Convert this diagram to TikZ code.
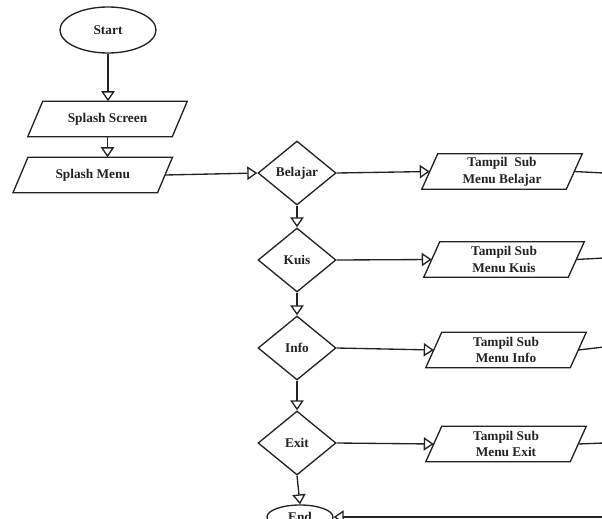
\documentclass[tikz,border=0pt]{standalone}
\usepackage{fontspec}
\setmainfont{Liberation Serif}
\usetikzlibrary{shapes.geometric,arrows.meta}
\definecolor{ink}{RGB}{35,35,35}
\begin{document}
\begin{tikzpicture}[x=0.75pt,y=-0.75pt,
  line/.style={draw=ink, line width=1pt},
  arr/.style={line, -{Triangle[open,length=7.5pt,width=10pt]}},
  txt/.style={font=\bfseries\fontsize{10}{12.5}\selectfont, text=ink},
  term/.style={ellipse, line, inner sep=0pt, txt},
  dec/.style={diamond, line, inner sep=0pt, minimum width=58.5pt, minimum height=48pt, txt},
  io/.style={inner sep=0pt, minimum width=108pt, minimum height=26.25pt, align=center, txt}
]
\path[use as bounding box] (0,0) rectangle (602,518);
\clip (0,0) rectangle (602,518);

% terminals
\node[term, minimum width=72pt, minimum height=34.5pt] (start) at (108,30) {Start};
\node[term, minimum width=49.5pt, minimum height=18pt] (end) at (300,517) {End};

% input/output boxes (drawn as parallelograms below)
\node[io] (ss) at (107.5,119) {Splash Screen};
\node[io] (sm) at (92.75,175) {Splash Menu};
\node[io] (tb) at (502,171.5) {Tampil~ Sub\\Menu Belajar};
\node[io] (tk) at (504,259.5) {Tampil Sub\\Menu Kuis};
\node[io] (ti) at (506,350) {Tampil Sub\\Menu Info};
\node[io] (te) at (506,444) {Tampil Sub\\Menu Exit};

\foreach \n in {ss,sm}
  \draw[line] ([xshift=5.625pt]\n.north west) -- ([xshift=5.625pt]\n.north east)
     -- ([xshift=-5.625pt]\n.south east) -- ([xshift=-5.625pt]\n.south west) -- cycle;
\foreach \n in {tb,tk,ti,te}
  \draw[line] ([xshift=6pt]\n.north west) -- ([xshift=6pt]\n.north east)
     -- ([xshift=-6pt]\n.south east) -- ([xshift=-6pt]\n.south west) -- cycle;

% decisions
\node[dec] (bel) at (297,173) {Belajar};
\node[dec] (kuis) at (297,260) {Kuis};
\node[dec] (info) at (297,348) {Info};
\node[dec] (exit) at (297,443) {Exit};

% right-hand free ends
\coordinate (rb) at (604,173);
\coordinate (rk) at (604,258);
\coordinate (ri) at (604,347);
\coordinate (rx) at (604,443);
\coordinate (re) at (604,517);

% connectors
\draw[arr] (start.south) -- (ss.north -| start.south);
\draw[arr] (ss.south) -- (ss.south |- sm.north);
\draw[arr] (sm.east) -- (bel.west);
\draw[arr] (bel.south) -- (kuis.north);
\draw[arr] (kuis.south) -- (info.north);
\draw[arr] (info.south) -- (exit.north);
\draw[arr] (exit.south) -- (end.north);
\draw[arr] (bel.east) -- (tb.west);
\draw[arr] (kuis.east) -- (tk.west);
\draw[arr] (info.east) -- (ti.west);
\draw[arr] (exit.east) -- (te.west);
\draw[line] (tb.east) -- (rb);
\draw[line] (tk.east) -- (rk);
\draw[line] (ti.east) -- (ri);
\draw[line] (te.east) -- (rx);
\draw[arr] (re) -- (end.east);
\end{tikzpicture}
\end{document}
